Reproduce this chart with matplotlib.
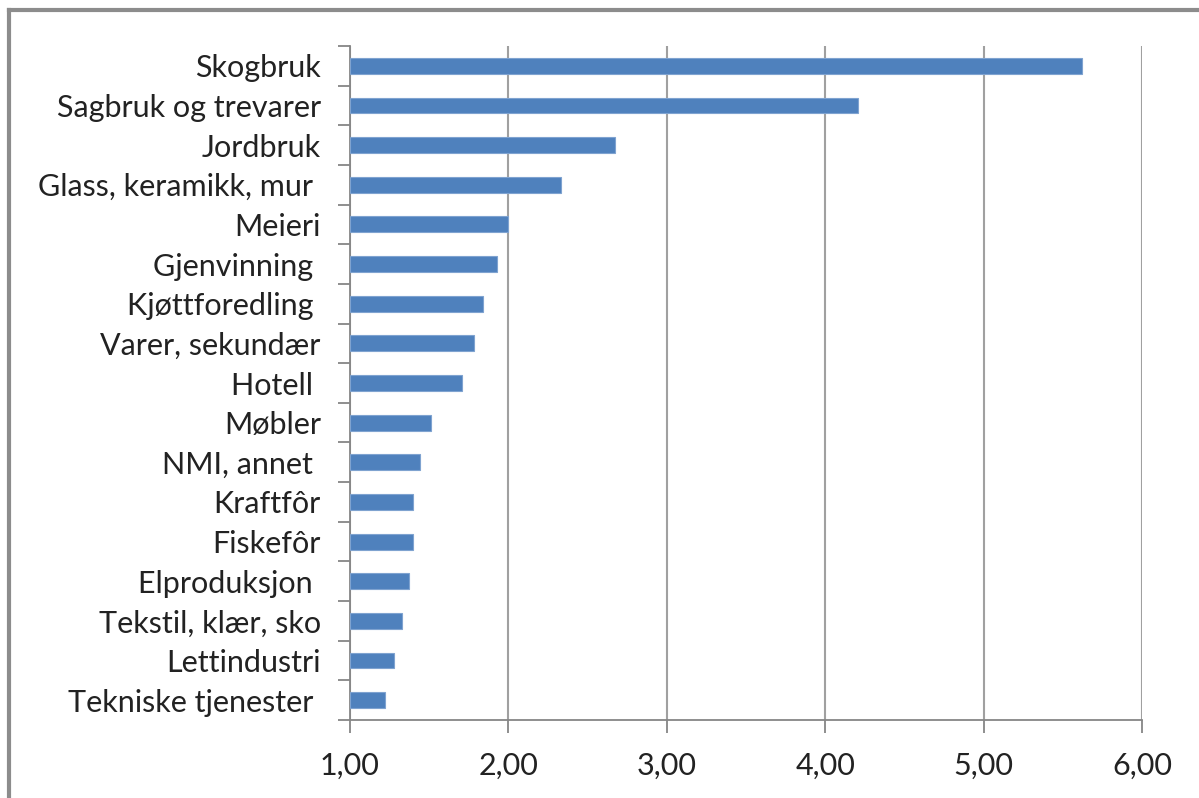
import matplotlib.pyplot as plt
from matplotlib.lines import Line2D
from matplotlib.ticker import FixedLocator

plt.rcParams['font.family'] = ['Lato', 'DejaVu Sans']

categories = ["Skogbruk", "Sagbruk og trevarer", "Jordbruk", "Glass, keramikk, mur ",
              "Meieri", "Gjenvinning ", "Kjøttforedling ", "Varer, sekundær",
              "Hotell ", "Møbler", "NMI, annet ", "Kraftfôr", "Fiskefôr",
              "Elproduksjon ", "Tekstil, klær, sko", "Lettindustri", "Tekniske tjenester "]
values = [5.62, 4.21, 2.67, 2.33, 2.00, 1.93, 1.84, 1.78, 1.71, 1.51,
          1.44, 1.40, 1.40, 1.37, 1.33, 1.28, 1.22]
xticks = [1, 2, 3, 4, 5, 6]
xlabels = ["1,00", "2,00", "3,00", "4,00", "5,00", "6,00"]

fig = plt.figure(figsize=(11.99, 7.98), dpi=100)
ax = fig.add_axes([0.2919, 0.0977, 0.9525 - 0.2919, 0.9424 - 0.0977])

pos = list(range(len(categories)))
base = 1.0
ax.barh(pos, [v - base for v in values], left=base, height=0.4,
        color='#4F81BD', edgecolor='#7FA3D0', linewidth=0.8, zorder=3)

ax.set_xlim(1, 6)
ax.set_ylim(len(categories) - 0.5, -0.5)

ax.set_xticks(xticks)
ax.set_xticklabels(xlabels, fontsize=22, color='#222222')
ax.set_yticks(pos)
ax.set_yticklabels(categories, fontsize=22, color='#222222')
ax.tick_params(axis='y', which='major', length=0, pad=21)
ax.yaxis.set_minor_locator(FixedLocator([p - 0.5 for p in pos] + [len(categories) - 0.5]))
ax.tick_params(axis='y', which='minor', length=9, width=1.3, color='#868686')
ax.tick_params(axis='x', which='major', length=9, width=1.3, color='#868686', pad=14)

ax.grid(axis='x', color='#A0A0A0', linewidth=1.5, zorder=0)
for s in ['top', 'right']:
    ax.spines[s].set_visible(False)
for s in ['left', 'bottom']:
    ax.spines[s].set_color('#868686')
    ax.spines[s].set_linewidth(1.3)

# outer chart frame, only left and top edges are visible
fig.add_artist(Line2D([9 / 1199, 9 / 1199], [0, 1 - 10 / 798], transform=fig.transFigure,
                      color='#8C8C8C', linewidth=3))
fig.add_artist(Line2D([9 / 1199, 1], [1 - 10 / 798, 1 - 10 / 798], transform=fig.transFigure,
                      color='#8C8C8C', linewidth=3))

fig.savefig("out.png", dpi=100)
